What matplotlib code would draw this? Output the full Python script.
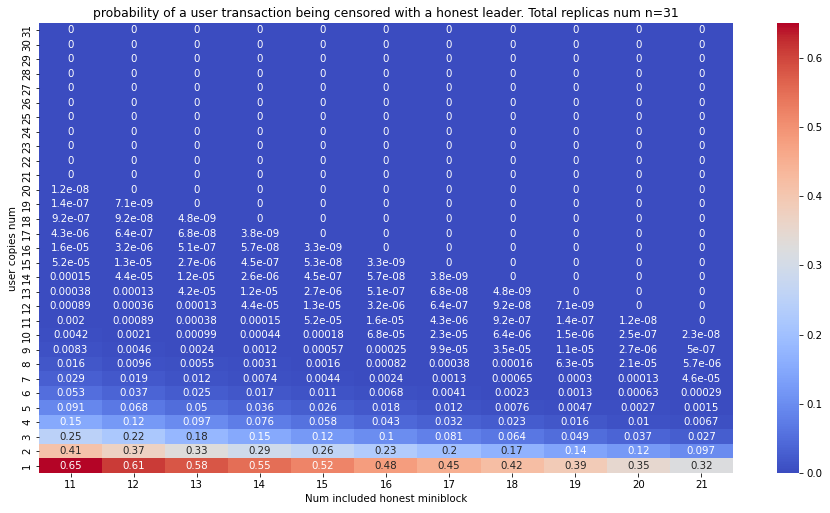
import numpy as np
import pandas as pd
import matplotlib
matplotlib.use("Agg")
import matplotlib.pyplot as plt
import seaborn as sns

# columns: number of included honest miniblocks, rows: user copies num
miniblocks = list(range(11, 22))
copies = list(range(1, 32))

# censor probability, one list per row (user copies = 1 .. 31)
row_01 = [0.65, 0.61, 0.58, 0.55, 0.52, 0.48, 0.45, 0.42, 0.39, 0.35, 0.32]
row_02 = [0.41, 0.37, 0.33, 0.29, 0.26, 0.23, 0.2, 0.17, 0.14, 0.12, 0.097]
row_03 = [0.25, 0.22, 0.18, 0.15, 0.12, 0.1, 0.081, 0.064, 0.049, 0.037, 0.027]
row_04 = [0.15, 0.12, 0.097, 0.076, 0.058, 0.043, 0.032, 0.023, 0.016, 0.01, 0.0067]
row_05 = [0.091, 0.068, 0.05, 0.036, 0.026, 0.018, 0.012, 0.0076, 0.0047, 0.0027, 0.0015]
row_06 = [0.053, 0.037, 0.025, 0.017, 0.011, 0.0068, 0.0041, 0.0023, 0.0013, 0.00063, 0.00029]
row_07 = [0.029, 0.019, 0.012, 0.0074, 0.0044, 0.0024, 0.0013, 0.00065, 0.0003, 0.00013, 4.6e-05]
row_08 = [0.016, 0.0096, 0.0055, 0.0031, 0.0016, 0.00082, 0.00038, 0.00016, 6.3e-05, 2.1e-05, 5.7e-06]
row_09 = [0.0083, 0.0046, 0.0024, 0.0012, 0.00057, 0.00025, 9.9e-05, 3.5e-05, 1.1e-05, 2.7e-06, 5e-07]
row_10 = [0.0042, 0.0021, 0.00099, 0.00044, 0.00018, 6.8e-05, 2.3e-05, 6.4e-06, 1.5e-06, 2.5e-07, 2.3e-08]
row_11 = [0.002, 0.00089, 0.00038, 0.00015, 5.2e-05, 1.6e-05, 4.3e-06, 9.2e-07, 1.4e-07, 1.2e-08, 0]
row_12 = [0.00089, 0.00036, 0.00013, 4.4e-05, 1.3e-05, 3.2e-06, 6.4e-07, 9.2e-08, 7.1e-09, 0, 0]
row_13 = [0.00038, 0.00013, 4.2e-05, 1.2e-05, 2.7e-06, 5.1e-07, 6.8e-08, 4.8e-09, 0, 0, 0]
row_14 = [0.00015, 4.4e-05, 1.2e-05, 2.6e-06, 4.5e-07, 5.7e-08, 3.8e-09, 0, 0, 0, 0]
row_15 = [5.2e-05, 1.3e-05, 2.7e-06, 4.5e-07, 5.3e-08, 3.3e-09, 0, 0, 0, 0, 0]
row_16 = [1.6e-05, 3.2e-06, 5.1e-07, 5.7e-08, 3.3e-09, 0, 0, 0, 0, 0, 0]
row_17 = [4.3e-06, 6.4e-07, 6.8e-08, 3.8e-09, 0, 0, 0, 0, 0, 0, 0]
row_18 = [9.2e-07, 9.2e-08, 4.8e-09, 0, 0, 0, 0, 0, 0, 0, 0]
row_19 = [1.4e-07, 7.1e-09, 0, 0, 0, 0, 0, 0, 0, 0, 0]
row_20 = [1.2e-08, 0, 0, 0, 0, 0, 0, 0, 0, 0, 0]
row_21 = [0, 0, 0, 0, 0, 0, 0, 0, 0, 0, 0]
row_22 = [0, 0, 0, 0, 0, 0, 0, 0, 0, 0, 0]
row_23 = [0, 0, 0, 0, 0, 0, 0, 0, 0, 0, 0]
row_24 = [0, 0, 0, 0, 0, 0, 0, 0, 0, 0, 0]
row_25 = [0, 0, 0, 0, 0, 0, 0, 0, 0, 0, 0]
row_26 = [0, 0, 0, 0, 0, 0, 0, 0, 0, 0, 0]
row_27 = [0, 0, 0, 0, 0, 0, 0, 0, 0, 0, 0]
row_28 = [0, 0, 0, 0, 0, 0, 0, 0, 0, 0, 0]
row_29 = [0, 0, 0, 0, 0, 0, 0, 0, 0, 0, 0]
row_30 = [0, 0, 0, 0, 0, 0, 0, 0, 0, 0, 0]
row_31 = [0, 0, 0, 0, 0, 0, 0, 0, 0, 0, 0]

rows = [row_01, row_02, row_03, row_04, row_05, row_06, row_07, row_08,
        row_09, row_10, row_11, row_12, row_13, row_14, row_15, row_16,
        row_17, row_18, row_19, row_20, row_21, row_22, row_23, row_24,
        row_25, row_26, row_27, row_28, row_29, row_30, row_31]

df = pd.DataFrame(rows, index=copies, columns=miniblocks)

plt.rcParams['font.size'] = 10.3
fig = plt.figure(figsize=(830 / 72, 513 / 72), dpi=72)
ax = fig.add_axes([0.047, 0.078, 0.836, 0.877])
cax = fig.add_axes([0.936, 0.078, 0.027, 0.877])

sns.heatmap(df, ax=ax, cbar_ax=cax, cmap="coolwarm", annot=True,
            xticklabels=True, yticklabels=True)
ax.invert_yaxis()
plt.setp(ax.get_yticklabels(), rotation=90, va="center")
plt.setp(ax.get_xticklabels(), rotation=0)

ax.set_title("probability of a user transaction being censored with a honest leader. "
             "Total replicas num n=31")
ax.set_xlabel("Num included honest miniblock")
ax.set_ylabel("user copies num")

fig.savefig("out.png", dpi=72)
